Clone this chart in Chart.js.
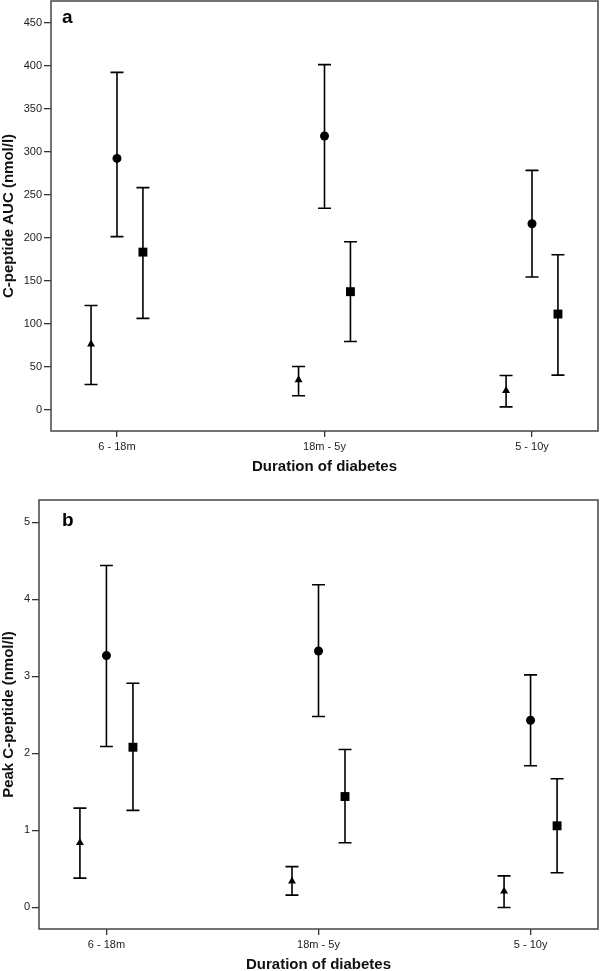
<!DOCTYPE html>
<html>
<head>
<meta charset="utf-8">
<script src="https://cdn.jsdelivr.net/npm/chart.js@4.4.1/dist/chart.umd.min.js"></script>
<style>
html, body { margin: 0; padding: 0; background: #fff; overflow: hidden; }
#wrap { width: 600px; height: 971px; }
canvas { display: block; }
</style>
</head>
<body>
<div id="wrap">
  <canvas id="chartA" width="600" height="485"></canvas>
  <canvas id="chartB" width="600" height="486"></canvas>
</div>
<script>
const categories = ["6 - 18m", "18m - 5y", "5 - 10y"];
const xTitle = "Duration of diabetes";

// panel a - C-peptide AUC, mean and 95% CI per group
const aucTicks = [0, 50, 100, 150, 200, 250, 300, 350, 400, 450];
const aucTriangle = [76, 34.5, 22];
const aucTriangleLow = [29, 16, 3];
const aucTriangleHigh = [121, 50, 39.5];
const aucCircle = [292, 318, 216];
const aucCircleLow = [201, 234, 154];
const aucCircleHigh = [392, 401, 278];
const aucSquare = [183, 137, 111];
const aucSquareLow = [106, 79, 40];
const aucSquareHigh = [258, 195, 180];

// panel b - peak C-peptide
const peakTicks = [0, 1, 2, 3, 4, 5];
const peakTriangle = [0.84, 0.34, 0.21];
const peakTriangleLow = [0.38, 0.16, 0.0];
const peakTriangleHigh = [1.29, 0.53, 0.41];
const peakCircle = [3.27, 3.33, 2.43];
const peakCircleLow = [2.09, 2.48, 1.84];
const peakCircleHigh = [4.44, 4.19, 3.02];
const peakSquare = [2.08, 1.44, 1.06];
const peakSquareLow = [1.26, 0.84, 0.45];
const peakSquareHigh = [2.91, 2.05, 1.67];

const FONT = "'Liberation Sans', Arial, Helvetica, sans-serif";

const errorBars = {
    id: "errorBars",
    beforeDatasetsDraw(chart) {
        const ctx = chart.ctx;
        const xs = chart.scales.x;
        const ys = chart.scales.y;
        ctx.save();
        ctx.strokeStyle = "#000";
        ctx.lineWidth = 1.6;
        chart.data.datasets.forEach(ds => {
            ds.data.forEach((p, i) => {
                let x = xs.getPixelForValue(p.x);
                let top = ys.getPixelForValue(ds.high[i]);
                let bot = ys.getPixelForValue(ds.low[i]);
                ctx.beginPath();
                ctx.moveTo(x, top);
                ctx.lineTo(x, bot);
                ctx.moveTo(x - 6.5, top);
                ctx.lineTo(x + 6.5, top);
                ctx.moveTo(x - 6.5, bot);
                ctx.lineTo(x + 6.5, bot);
                ctx.stroke();
            });
        });
        ctx.restore();
    }
};

const frame = {
    id: "frame",
    afterDraw(chart, args, opts) {
        const ctx = chart.ctx;
        const a = chart.chartArea;
        ctx.save();
        ctx.strokeStyle = "#444";
        ctx.lineWidth = 1.5;
        ctx.strokeRect(a.left, a.top, a.right - a.left, a.bottom - a.top);
        ctx.fillStyle = "#000";
        ctx.font = "bold 19px " + FONT;
        ctx.textBaseline = "alphabetic";
        ctx.fillText(opts.letter, 62, a.top + opts.letterY);
        ctx.restore();
    }
};

// no extra room for overhanging tick labels, the box is placed by hand
function noPadding(s) {
    s.paddingTop = 0;
    s.paddingBottom = 0;
    s.paddingLeft = 0;
    s.paddingRight = 0;
}

function series(values, low, high, shift, style, radius) {
    return {
        data: values.map((v, i) => ({ x: i + shift, y: v })),
        low: low,
        high: high,
        pointStyle: style,
        pointRadius: radius,
        pointHoverRadius: radius,
        backgroundColor: "#000",
        borderColor: "#000",
        borderWidth: 0,
        showLine: false
    };
}

function makeChart(canvasId, cfg) {
    return new Chart(document.getElementById(canvasId), {
        type: "scatter",
        data: {
            datasets: [
                series(cfg.tri, cfg.triLow, cfg.triHigh, -0.125, "triangle", 4.6),
                series(cfg.circ, cfg.circLow, cfg.circHigh, 0, "circle", 4.5),
                series(cfg.sq, cfg.sqLow, cfg.sqHigh, 0.125, "rect", 6.3)
            ]
        },
        options: {
            responsive: false,
            animation: false,
            devicePixelRatio: 1,
            layout: { autoPadding: false, padding: { top: cfg.top, right: 2, left: 0, bottom: 0 } },
            plugins: {
                legend: { display: false },
                tooltip: { enabled: false },
                frame: { letter: cfg.letter, letterY: cfg.letterY }
            },
            scales: {
                x: {
                    type: "linear",
                    min: -0.318,
                    max: 2.318,
                    afterBuildTicks: s => { s.ticks = categories.map((c, i) => ({ value: i })); },
                    afterFit: s => { s.height = cfg.xHeight; noPadding(s); },
                    border: { display: false },
                    grid: { drawOnChartArea: false, drawTicks: true, tickLength: 6, color: "#333", lineWidth: 1.3 },
                    ticks: {
                        padding: 3,
                        color: "#222",
                        font: { family: FONT, size: 11 },
                        maxRotation: 0,
                        autoSkip: false,
                        callback: v => categories[v]
                    },
                    title: {
                        display: true,
                        text: xTitle,
                        color: "#111",
                        font: { family: FONT, size: 15, weight: "bold", lineHeight: "12px" },
                        padding: { top: 0, bottom: cfg.xTitlePad }
                    }
                },
                y: {
                    min: cfg.yMin,
                    max: cfg.yMax,
                    afterBuildTicks: s => { s.ticks = cfg.ticks.map(v => ({ value: v })); },
                    afterFit: s => { s.width = cfg.yWidth; noPadding(s); },
                    border: { display: false },
                    grid: { drawOnChartArea: false, drawTicks: true, tickLength: 7, color: "#333", lineWidth: 1.3 },
                    ticks: {
                        padding: 2,
                        color: "#222",
                        font: { family: FONT, size: 11 }
                    },
                    title: {
                        display: true,
                        text: cfg.yTitle,
                        color: "#111",
                        font: { family: FONT, size: 15, weight: "bold", lineHeight: "12px" },
                        padding: { top: 3, bottom: 0 }
                    }
                }
            }
        },
        plugins: [errorBars, frame]
    });
}

makeChart("chartA", {
    letter: "a", letterY: 22, top: 1, yWidth: 51, xHeight: 54, xTitlePad: 12,
    yMin: -25, yMax: 475, ticks: aucTicks, yTitle: "C-peptide AUC (nmol/l)",
    tri: aucTriangle, triLow: aucTriangleLow, triHigh: aucTriangleHigh,
    circ: aucCircle, circLow: aucCircleLow, circHigh: aucCircleHigh,
    sq: aucSquare, sqLow: aucSquareLow, sqHigh: aucSquareHigh
});

makeChart("chartB", {
    letter: "b", letterY: 26, top: 15, yWidth: 39, xHeight: 42, xTitlePad: 0,
    yMin: -0.28, yMax: 5.29, ticks: peakTicks, yTitle: "Peak C-peptide (nmol/l)",
    tri: peakTriangle, triLow: peakTriangleLow, triHigh: peakTriangleHigh,
    circ: peakCircle, circLow: peakCircleLow, circHigh: peakCircleHigh,
    sq: peakSquare, sqLow: peakSquareLow, sqHigh: peakSquareHigh
});
</script>
</body>
</html>
